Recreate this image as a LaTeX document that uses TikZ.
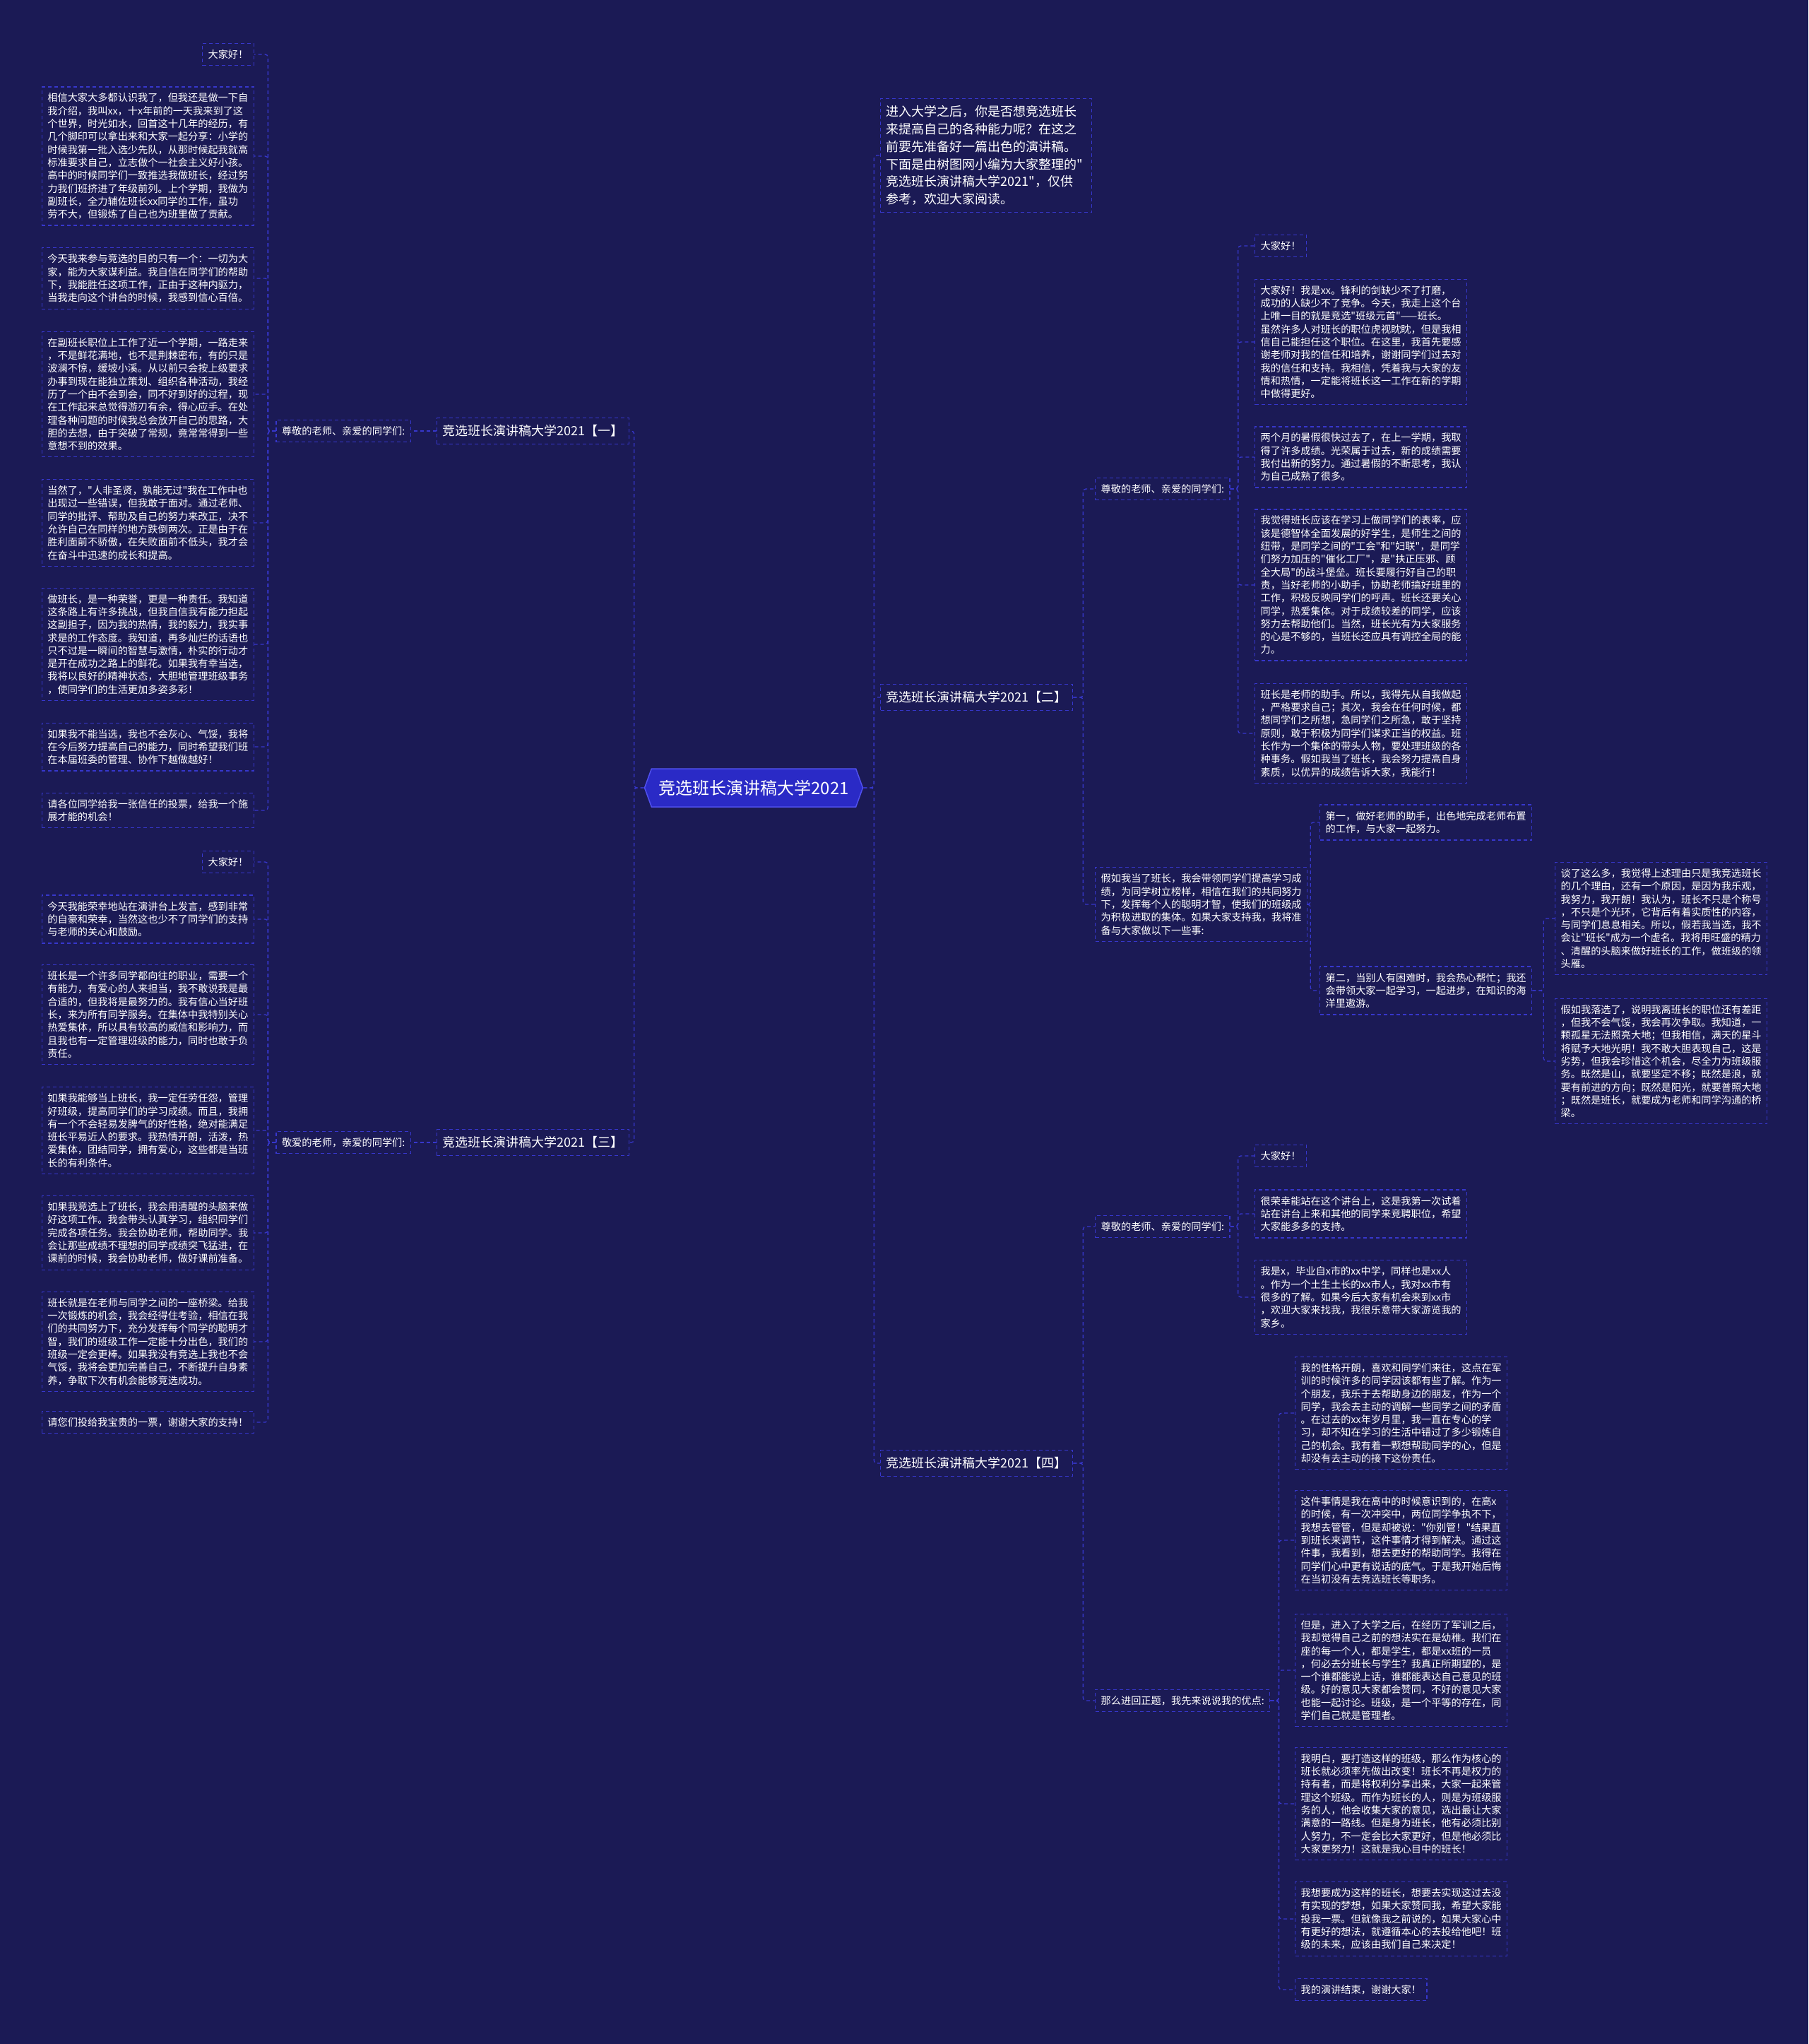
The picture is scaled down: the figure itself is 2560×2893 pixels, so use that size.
\documentclass[tikz,border=0pt]{standalone}
\usepackage{fontspec}
\usepackage{xcolor}
\usetikzlibrary{positioning,shapes.symbols}
\newfontfamily\cjk{Noto Sans CJK SC}[Ligatures=TeXOff]
\definecolor{Navy}{HTML}{1B1A55}
\definecolor{Edge}{HTML}{3737CC}
\definecolor{Core}{HTML}{2A2AC6}
\definecolor{CoreLine}{HTML}{5050EE}
\tikzset{
  note/.style={draw=Edge, line width=1.3pt, dash pattern=on 5pt off 4pt, text=white,
    align=left, inner xsep=8pt, inner ysep=9pt, font=\cjk\fontsize{14.2}{18.3}\selectfont},
  para/.style={note, text width=284pt},
  topic/.style={note, inner ysep=10pt, font=\cjk\fontsize{18}{24.8}\selectfont},
  core/.style={shape=signal, signal to=west and east, signal pointer angle=140,
    fill=Core, draw=CoreLine, line width=1.5pt, text=white, inner xsep=10pt,
    minimum height=54pt, font=\cjk\fontsize{24}{28}\selectfont},
  link/.style={Edge, line width=1.3pt, dash pattern=on 5pt off 4pt, rounded corners=4pt},
}

\begin{document}
\begin{tikzpicture}[x=1pt, y=-1pt]
  \useasboundingbox (0,0) rectangle (2560,2893);
  \fill[Navy] (0,0) rectangle (2560,2893);

  \node[core] (core) at (1067,1115) {竞选班长演讲稿大学2021};

  % left half
  \node[topic, anchor=east] (sp1) at (891,610) {竞选班长演讲稿大学2021【一】};
  \node[topic, anchor=east] (sp3) at (891,1617) {竞选班长演讲稿大学2021【三】};
  \node[note, anchor=east] (hi1) at (582,610) {尊敬的老师、亲爱的同学们:};
  \node[note, anchor=east] (hi3) at (582,1617) {敬爱的老师，亲爱的同学们:};

  \node[note, anchor=east] (a1) at (360,77) {大家好！};
  \node[para, anchor=east] (a2) at (360,221) {相信大家大多都认识我了，但我还是做一下自\\我介绍，我叫xx，十x年前的一天我来到了这\\个世界，时光如水，回首这十几年的经历，有\\几个脚印可以拿出来和大家一起分享：小学的\\时候我第一批入选少先队，从那时候起我就高\\标准要求自己，立志做个一社会主义好小孩。\\高中的时候同学们一致推选我做班长，经过努\\力我们班挤进了年级前列。上个学期，我做为\\副班长，全力辅佐班长xx同学的工作，虽功\\劳不大，但锻炼了自己也为班里做了贡献。};
  \node[para, anchor=east] (a3) at (360,394) {今天我来参与竞选的目的只有一个：一切为大\\家，能为大家谋利益。我自信在同学们的帮助\\下，我能胜任这项工作，正由于这种内驱力，\\当我走向这个讲台的时候，我感到信心百倍。};
  \node[para, anchor=east] (a4) at (360,558) {在副班长职位上工作了近一个学期，一路走来\\，不是鲜花满地，也不是荆棘密布，有的只是\\波澜不惊，缓坡小溪。从以前只会按上级要求\\办事到现在能独立策划、组织各种活动，我经\\历了一个由不会到会，同不好到好的过程，现\\在工作起来总觉得游刃有余，得心应手。在处\\理各种问题的时候我总会放开自己的思路，大\\胆的去想，由于突破了常规，竟常常得到一些\\意想不到的效果。};
  \node[para, anchor=east] (a5) at (360,740) {当然了，"人非圣贤，孰能无过"我在工作中也\\出现过一些错误，但我敢于面对。通过老师、\\同学的批评、帮助及自己的努力来改正，决不\\允许自己在同样的地方跌倒两次。正是由于在\\胜利面前不骄傲，在失败面前不低头，我才会\\在奋斗中迅速的成长和提高。};
  \node[para, anchor=east] (a6) at (360,912) {做班长，是一种荣誉，更是一种责任。我知道\\这条路上有许多挑战，但我自信我有能力担起\\这副担子，因为我的热情，我的毅力，我实事\\求是的工作态度。我知道，再多灿烂的话语也\\只不过是一瞬间的智慧与激情，朴实的行动才\\是开在成功之路上的鲜花。如果我有幸当选，\\我将以良好的精神状态，大胆地管理班级事务\\，使同学们的生活更加多姿多彩！};
  \node[para, anchor=east] (a7) at (360,1057) {如果我不能当选，我也不会灰心、气馁，我将\\在今后努力提高自己的能力，同时希望我们班\\在本届班委的管理、协作下越做越好！};
  \node[para, anchor=east] (a8) at (360,1147) {请各位同学给我一张信任的投票，给我一个施\\展才能的机会！};

  \node[note, anchor=east] (b1) at (360,1220) {大家好！};
  \node[para, anchor=east] (b2) at (360,1301) {今天我能荣幸地站在演讲台上发言，感到非常\\的自豪和荣幸，当然这也少不了同学们的支持\\与老师的关心和鼓励。};
  \node[para, anchor=east] (b3) at (360,1436) {班长是一个许多同学都向往的职业，需要一个\\有能力，有爱心的人来担当，我不敢说我是最\\合适的，但我将是最努力的。我有信心当好班\\长，来为所有同学服务。在集体中我特别关心\\热爱集体，所以具有较高的威信和影响力，而\\且我也有一定管理班级的能力，同时也敢于负\\责任。};
  \node[para, anchor=east] (b4) at (360,1600) {如果我能够当上班长，我一定任劳任怨，管理\\好班级，提高同学们的学习成绩。而且，我拥\\有一个不会轻易发脾气的好性格，绝对能满足\\班长平易近人的要求。我热情开朗，活泼，热\\爱集体，团结同学，拥有爱心，这些都是当班\\长的有利条件。};
  \node[para, anchor=east] (b5) at (360,1745) {如果我竞选上了班长，我会用清醒的头脑来做\\好这项工作。我会带头认真学习，组织同学们\\完成各项任务。我会协助老师，帮助同学。我\\会让那些成绩不理想的同学成绩突飞猛进，在\\课前的时候，我会协助老师，做好课前准备。};
  \node[para, anchor=east] (b6) at (360,1899) {班长就是在老师与同学之间的一座桥梁。给我\\一次锻炼的机会，我会经得住考验，相信在我\\们的共同努力下，充分发挥每个同学的聪明才\\智，我们的班级工作一定能十分出色，我们的\\班级一定会更棒。如果我没有竞选上我也不会\\气馁，我将会更加完善自己，不断提升自身素\\养，争取下次有机会能够竞选成功。};
  \node[note, anchor=east] (b7) at (360,2013) {请您们投给我宝贵的一票，谢谢大家的支持！};

  % right half
  \node[topic, anchor=west, text width=283pt] (intro) at (1246,220) {进入大学之后，你是否想竞选班长\\来提高自己的各种能力呢？在这之\\前要先准备好一篇出色的演讲稿。\\下面是由树图网小编为大家整理的"\\竞选班长演讲稿大学2021"，仅供\\参考，欢迎大家阅读。};
  \node[topic, anchor=west] (sp2) at (1246,987) {竞选班长演讲稿大学2021【二】};
  \node[topic, anchor=west] (sp4) at (1246,2071) {竞选班长演讲稿大学2021【四】};

  \node[note, anchor=west] (hi2) at (1550,692) {尊敬的老师、亲爱的同学们:};
  \node[note, anchor=west] (r1) at (1776,348) {大家好！};
  \node[para, anchor=west] (r2) at (1776,484) {大家好！我是xx。锋利的剑缺少不了打磨，\\成功的人缺少不了竞争。今天，我走上这个台\\上唯一目的就是竞选"班级元首"——班长。\\虽然许多人对班长的职位虎视眈眈，但是我相\\信自己能担任这个职位。在这里，我首先要感\\谢老师对我的信任和培养，谢谢同学们过去对\\我的信任和支持。我相信，凭着我与大家的友\\情和热情，一定能将班长这一工作在新的学期\\中做得更好。};
  \node[para, anchor=west] (r3) at (1776,647) {两个月的暑假很快过去了，在上一学期，我取\\得了许多成绩。光荣属于过去，新的成绩需要\\我付出新的努力。通过暑假的不断思考，我认\\为自己成熟了很多。};
  \node[para, anchor=west] (r4) at (1776,828) {我觉得班长应该在学习上做同学们的表率，应\\该是德智体全面发展的好学生，是师生之间的\\纽带，是同学之间的"工会"和"妇联"，是同学\\们努力加压的"催化工厂"，是"扶正压邪、顾\\全大局"的战斗堡垒。班长要履行好自己的职\\责，当好老师的小助手，协助老师搞好班里的\\工作，积极反映同学们的呼声。班长还要关心\\同学，热爱集体。对于成绩较差的同学，应该\\努力去帮助他们。当然，班长光有为大家服务\\的心是不够的，当班长还应具有调控全局的能\\力。};
  \node[para, anchor=west] (r5) at (1776,1038) {班长是老师的助手。所以，我得先从自我做起\\，严格要求自己；其次，我会在任何时候，都\\想同学们之所想，急同学们之所急，敢于坚持\\原则，敢于积极为同学们谋求正当的权益。班\\长作为一个集体的带头人物，要处理班级的各\\种事务。假如我当了班长，我会努力提高自身\\素质，以优异的成绩告诉大家，我能行！};

  \node[para, anchor=west] (plan) at (1550,1280) {假如我当了班长，我会带领同学们提高学习成\\绩，为同学树立榜样，相信在我们的共同努力\\下，发挥每个人的聪明才智，使我们的班级成\\为积极进取的集体。如果大家支持我，我将准\\备与大家做以下一些事:};
  \node[para, anchor=west] (p1) at (1868,1164) {第一，做好老师的助手，出色地完成老师布置\\的工作，与大家一起努力。};
  \node[para, anchor=west] (p2) at (1868,1402) {第二，当别人有困难时，我会热心帮忙；我还\\会带领大家一起学习，一起进步，在知识的海\\洋里遨游。};
  \node[para, anchor=west] (q1) at (2201,1300) {谈了这么多，我觉得上述理由只是我竞选班长\\的几个理由，还有一个原因，是因为我乐观，\\我努力，我开朗！我认为，班长不只是个称号\\，不只是个光环，它背后有着实质性的内容，\\与同学们息息相关。所以，假若我当选，我不\\会让"班长"成为一个虚名。我将用旺盛的精力\\、清醒的头脑来做好班长的工作，做班级的领\\头雁。};
  \node[para, anchor=west] (q2) at (2201,1502) {假如我落选了，说明我离班长的职位还有差距\\，但我不会气馁，我会再次争取。我知道，一\\颗孤星无法照亮大地；但我相信，满天的星斗\\将赋予大地光明！我不敢大胆表现自己，这是\\劣势，但我会珍惜这个机会，尽全力为班级服\\务。既然是山，就要坚定不移；既然是浪，就\\要有前进的方向；既然是阳光，就要普照大地\\；既然是班长，就要成为老师和同学沟通的桥\\梁。};

  \node[note, anchor=west] (hi4) at (1550,1736) {尊敬的老师、亲爱的同学们:};
  \node[note, anchor=west] (d1) at (1776,1636) {大家好！};
  \node[para, anchor=west] (d2) at (1776,1718) {很荣幸能站在这个讲台上，这是我第一次试着\\站在讲台上来和其他的同学来竞聘职位，希望\\大家能多多的支持。};
  \node[para, anchor=west] (d3) at (1776,1836) {我是x，毕业自x市的xx中学，同样也是xx人\\。作为一个土生土长的xx市人，我对xx市有\\很多的了解。如果今后大家有机会来到xx市\\，欢迎大家来找我，我很乐意带大家游览我的\\家乡。};

  \node[note, anchor=west] (pro) at (1550,2407) {那么进回正题，我先来说说我的优点:};
  \node[para, anchor=west] (e1) at (1833,2000) {我的性格开朗，喜欢和同学们来往，这点在军\\训的时候许多的同学因该都有些了解。作为一\\个朋友，我乐于去帮助身边的朋友，作为一个\\同学，我会去主动的调解一些同学之间的矛盾\\。在过去的xx年岁月里，我一直在专心的学\\习，却不知在学习的生活中错过了多少锻炼自\\己的机会。我有着一颗想帮助同学的心，但是\\却没有去主动的接下这份责任。};
  \node[para, anchor=west] (e2) at (1833,2180) {这件事情是我在高中的时候意识到的，在高x\\的时候，有一次冲突中，两位同学争执不下，\\我想去管管，但是却被说："你别管！"结果直\\到班长来调节，这件事情才得到解决。通过这\\件事，我看到，想去更好的帮助同学。我得在\\同学们心中更有说话的底气。于是我开始后悔\\在当初没有去竞选班长等职务。};
  \node[para, anchor=west] (e3) at (1833,2364) {但是，进入了大学之后，在经历了军训之后，\\我却觉得自己之前的想法实在是幼稚。我们在\\座的每一个人，都是学生，都是xx班的一员\\，何必去分班长与学生？我真正所期望的，是\\一个谁都能说上话，谁都能表达自己意见的班\\级。好的意见大家都会赞同，不好的意见大家\\也能一起讨论。班级，是一个平等的存在，同\\学们自己就是管理者。};
  \node[para, anchor=west] (e4) at (1833,2553) {我明白，要打造这样的班级，那么作为核心的\\班长就必须率先做出改变！班长不再是权力的\\持有者，而是将权利分享出来，大家一起来管\\理这个班级。而作为班长的人，则是为班级服\\务的人，他会收集大家的意见，选出最让大家\\满意的一路线。但是身为班长，他有必须比别\\人努力，不一定会比大家更好，但是他必须比\\大家更努力！这就是我心目中的班长！};
  \node[para, anchor=west] (e5) at (1833,2716) {我想要成为这样的班长，想要去实现这过去没\\有实现的梦想，如果大家赞同我，希望大家能\\投我一票。但就像我之前说的，如果大家心中\\有更好的想法，就遵循本心的去投给他吧！班\\级的未来，应该由我们自己来决定！};
  \node[note, anchor=west] (e6) at (1833,2816) {我的演讲结束，谢谢大家！};

  % connectors
  \draw[link] (core.west) -- ++(-14,0) |- (sp1.east);
  \draw[link] (core.west) -- ++(-14,0) |- (sp3.east);
  \draw[link] (sp1.west) -- (hi1.east);
  \draw[link] (sp3.west) -- (hi3.east);
  \foreach \n in {1,...,8}
    \draw[link] (hi1.west) -- ++(-11,0) |- (a\n.east);
  \foreach \n in {1,...,7}
    \draw[link] (hi3.west) -- ++(-11,0) |- (b\n.east);

  \draw[link] (core.east) -- ++(15,0) |- (intro.west);
  \draw[link] (core.east) -- ++(15,0) |- (sp2.west);
  \draw[link] (core.east) -- ++(15,0) |- (sp4.west);
  \draw[link] (sp2.east) -- ++(14,0) |- (hi2.west);
  \draw[link] (sp2.east) -- ++(14,0) |- (plan.west);
  \foreach \n in {1,...,5}
    \draw[link] (hi2.east) -- ++(11,0) |- (r\n.west);
  \draw[link] (plan.east) -- ++(4,0) |- (p1.west);
  \draw[link] (plan.east) -- ++(4,0) |- (p2.west);
  \draw[link] (p2.east) -- ++(16,0) |- (q1.west);
  \draw[link] (p2.east) -- ++(16,0) |- (q2.west);
  \draw[link] (sp4.east) -- ++(14,0) |- (hi4.west);
  \draw[link] (sp4.east) -- ++(14,0) |- (pro.west);
  \foreach \n in {1,...,3}
    \draw[link] (hi4.east) -- ++(11,0) |- (d\n.west);
  \foreach \n in {1,...,6}
    \draw[link] (pro.east) -- ++(12,0) |- (e\n.west);
\end{tikzpicture}
\end{document}
